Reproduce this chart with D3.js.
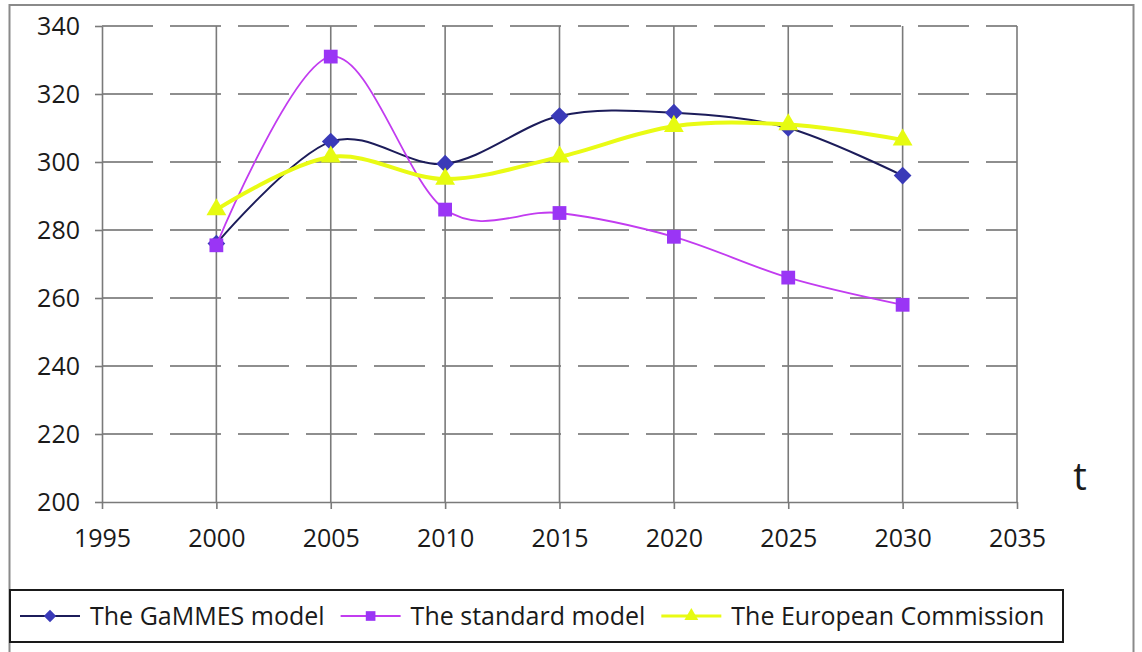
<!DOCTYPE html>
<html>
<head>
<meta charset="utf-8">
<script src="https://cdn.jsdelivr.net/npm/d3@7"></script>
<style>
  html, body { margin: 0; padding: 0; background: #ffffff; }
  svg { display: block; }
  text { font-family: "Open Sans", "Liberation Sans", sans-serif; fill: #1a1a1a; }
</style>
</head>
<body>
<svg id="chart" width="1142" height="652"></svg>
<script>
// ---- data ----
const years = [2000, 2005, 2010, 2015, 2020, 2025, 2030];
const gammes = [276, 306, 299.5, 313.5, 314.5, 310, 296];
const standard = [275.5, 331, 286, 285, 278, 266, 258];
const european = [286, 301.5, 295, 301.5, 310.5, 311, 306.5];
const xTicks = [1995, 2000, 2005, 2010, 2015, 2020, 2025, 2030, 2035];
const yTicks = [200, 220, 240, 260, 280, 300, 320, 340];
const seriesNames = ["The GaMMES model", "The standard model", "The European Commission"];
const axisLabel = "t";

const series = [
  { name: seriesNames[0], values: gammes, line: "#1c1c5a", marker: "#3a3ab8", width: 2, symbol: "diamond" },
  { name: seriesNames[1], values: standard, line: "#c23cf0", marker: "#9a35f5", width: 1.8, symbol: "square" },
  { name: seriesNames[2], values: european, line: "#e9fb14", marker: "#e6fb10", width: 4, symbol: "triangle" }
];

const svg = d3.select("#chart");

// outer frame
svg.append("rect").attr("x", 9.5).attr("y", 5).attr("width", 1124).attr("height", 660)
  .attr("fill", "#ffffff").attr("stroke", "#8a8a8a").attr("stroke-width", 2);

const pLeft = 102, pRight = 1017, pTop = 26, pBottom = 502;
const x = d3.scaleLinear().domain([1995, 2035]).range([pLeft, pRight]);
const y = d3.scaleLinear().domain([200, 340]).range([pBottom, pTop]);

// horizontal dashed gridlines
svg.append("g").selectAll("line").data(yTicks.filter(d => d > 200)).join("line")
  .attr("x1", pLeft).attr("x2", pRight)
  .attr("y1", d => y(d)).attr("y2", d => y(d))
  .attr("stroke", "#8e8e8e").attr("stroke-width", 2)
  .attr("stroke-dasharray", "51,17");

// vertical gridlines
svg.append("g").selectAll("line").data(xTicks.filter(d => d > 1995)).join("line")
  .attr("x1", d => x(d)).attr("x2", d => x(d))
  .attr("y1", pTop).attr("y2", pBottom)
  .attr("stroke", "#7a7a7a").attr("stroke-width", 1.6);

// y axis
const yAxis = svg.append("g").attr("transform", `translate(${pLeft},0)`)
  .call(d3.axisLeft(y).tickValues(yTicks).tickSize(7).tickPadding(15).tickSizeOuter(0));
yAxis.select(".domain").attr("stroke", "#7a7a7a").attr("stroke-width", 1.6);
yAxis.selectAll(".tick line").attr("stroke", "#7a7a7a").attr("stroke-width", 1.6);
yAxis.selectAll(".tick text").attr("font-size", 25).attr("fill", "#1a1a1a")
  .attr("font-family", "'Open Sans', sans-serif");

// x axis
const xAxis = svg.append("g").attr("transform", `translate(0,${pBottom})`)
  .call(d3.axisBottom(x).tickValues(xTicks).tickFormat(d3.format("d")).tickSize(7).tickPadding(20).tickSizeOuter(0));
xAxis.select(".domain").attr("stroke", "#7a7a7a").attr("stroke-width", 1.6);
xAxis.selectAll(".tick line").attr("stroke", "#7a7a7a").attr("stroke-width", 1.6);
xAxis.selectAll(".tick text").attr("font-size", 25).attr("fill", "#1a1a1a")
  .attr("font-family", "'Open Sans', sans-serif");

// "t" label
svg.append("text").attr("x", 1080).attr("y", 490).attr("text-anchor", "middle")
  .attr("font-size", 38).text(axisLabel);

// symbols
function symbolPath(kind, scale) {
  const s = scale || 1;
  if (kind === "diamond") return d3.symbol().type(d3.symbolDiamond2).size(200 * s * s)();
  if (kind === "square") return d3.symbol().type(d3.symbolSquare).size(190 * s * s)();
  return d3.symbol().type(d3.symbolTriangle).size(170 * s * s)();
}

const line = d3.line().x((d, i) => x(years[i])).y(d => y(d)).curve(d3.curveCatmullRom.alpha(0));

series.forEach(s => {
  const g = svg.append("g");
  g.append("path").datum(s.values).attr("d", line)
    .attr("fill", "none").attr("stroke", s.line).attr("stroke-width", s.width)
    .attr("stroke-linejoin", "round");
  g.selectAll("path.m").data(s.values).join("path").attr("class", "m")
    .attr("transform", (d, i) => `translate(${x(years[i])},${y(d)})`)
    .attr("d", symbolPath(s.symbol))
    .attr("fill", s.marker);
});

// legend
const legY = 616;
svg.append("rect").attr("x", 10).attr("y", 590).attr("width", 1053).attr("height", 52)
  .attr("fill", "#ffffff").attr("stroke", "#1a1a1a").attr("stroke-width", 2);
let lx = 20;
series.forEach(s => {
  const g = svg.append("g");
  g.append("line").attr("x1", lx).attr("x2", lx + 60).attr("y1", legY).attr("y2", legY)
    .attr("stroke", s.line).attr("stroke-width", Math.min(s.width, 3));
  g.append("path").attr("transform", `translate(${lx + 30},${legY})`)
    .attr("d", symbolPath(s.symbol, 0.7)).attr("fill", s.marker);
  const t = g.append("text").attr("x", lx + 70).attr("y", legY + 9).attr("font-size", 25).text(s.name);
  lx = lx + 70 + t.node().getComputedTextLength() + 16;
});
</script>
</body>
</html>
